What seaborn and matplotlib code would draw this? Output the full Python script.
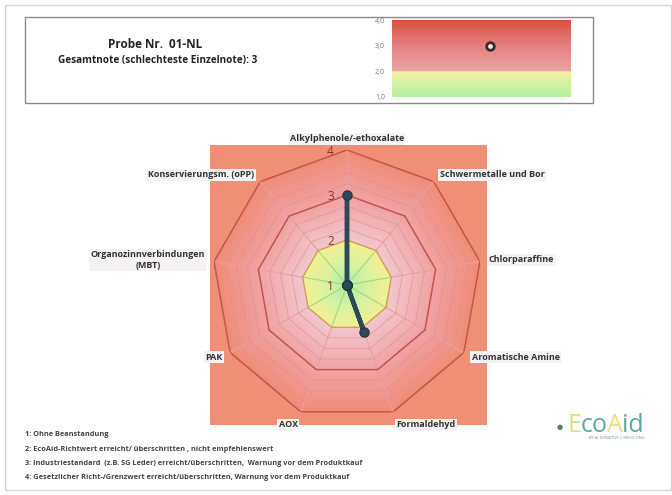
import numpy as np
import matplotlib
matplotlib.use("Agg")
import matplotlib.pyplot as plt
import matplotlib.colors as mcolors
from matplotlib.patches import Rectangle
import seaborn as sns

# --- data ---
categories = ["Alkylphenole/-ethoxalate", "Schwermetalle und Bor", "Chlorparaffine",
              "Aromatische Amine", "Formaldehyd", "AOX", "PAK",
              "Organozinnverbindungen\n(MBT)", "Konservierungsm. (oPP)"]
scores = [3, 1, 1, 1, 2.1, 1, 1, 1, 1]
overall_score = 3
radar_ticks = [1, 2, 3, 4]
bar_ticks = [1, 2, 3, 4]
bar_tick_labels = ["1,0", "2,0", "3,0", "4,0"]
sample_name = "Probe Nr.  01-NL"
subtitle = "Gesamtnote (schlechteste Einzelnote): 3"
legend_lines = ["1: Ohne Beanstandung",
                "2: EcoAid-Richtwert erreicht/ überschritten , nicht empfehlenswert",
                "3: Industriestandard  (z.B. SG Leder) erreicht/überschritten,  Warnung vor dem Produktkauf",
                "4: Gesetzlicher Richt-/Grenzwert erreicht/überschritten, Warnung vor dem Produktkauf"]

sns.set_theme(style="white")
plt.rcParams['font.family'] = ['Open Sans', 'DejaVu Sans']

W, H = 672, 495
fig = plt.figure(figsize=(W / 100, H / 100), dpi=100)
fig.patch.set_facecolor("white")


def px(x0, y0, x1, y1):
    # pixel box (top-left origin) -> figure fraction rect
    return [x0 / W, 1 - y1 / H, (x1 - x0) / W, (y1 - y0) / H]


# outer frame
fig.patches.append(Rectangle((5 / W, 5 / H), 666 / W, 485 / H, transform=fig.transFigure,
                             fill=False, edgecolor="#d4d4d4", lw=1))
# header box
fig.patches.append(Rectangle((25 / W, 1 - 103 / H), 568 / W, 86 / H, transform=fig.transFigure,
                             fill=False, edgecolor="#8a8a8a", lw=1))
fig.text(155 / W, 1 - 45 / H, sample_name, ha="center", va="center",
         fontsize=8.5, fontweight="bold", color="#222222")
fig.text(158 / W, 1 - 60 / H, subtitle, ha="center", va="center",
         fontsize=7.2, fontweight="bold", color="#222222")


def ramp(stops, vals):
    pos = [s[0] for s in stops]
    rgb = np.array([mcolors.to_rgb(s[1]) for s in stops])
    return np.stack([np.interp(vals, pos, rgb[:, k]) for k in range(3)], axis=-1)


# --- small overall-score bar ---
axb = fig.add_axes(px(392, 20, 570, 97))
yy = np.linspace(1, 4, 300)
bar_cols = np.where(yy[:, None] < 2,
                    ramp([(1, "#b2f2a4"), (2, "#f6f0a2")], yy),
                    ramp([(2, "#eaa6a6"), (3, "#e58080"), (4, "#d9503f")], yy))
axb.imshow(bar_cols[:, None, :], extent=[0, 1, 1, 4], origin="lower", aspect="auto")
sns.scatterplot(x=[0.55], y=[overall_score], ax=axb, s=30, color="#f4eeee",
                edgecolor="#3a2a2a", linewidth=2.0, zorder=5)
axb.set_xlim(0, 1)
axb.set_ylim(1, 4)
axb.set_xticks([])
axb.set_yticks(bar_ticks)
axb.set_yticklabels(bar_tick_labels, fontsize=5, color="#777777")
axb.tick_params(axis="y", length=0, pad=5)
for s in axb.spines.values():
    s.set_visible(False)

# --- radar background square ---
axs = fig.add_axes(px(210, 145, 487, 425))
axs.set_facecolor("#ef8f76")
axs.set_xticks([])
axs.set_yticks([])
for s in axs.spines.values():
    s.set_visible(False)

# --- radar ---
cx, cy, R = 347, 285, 135
ax = fig.add_axes(px(cx - R, cy - R, cx + R, cy + R), projection="polar")
ax.set_facecolor("none")
ax.set_theta_zero_location("N")
ax.set_theta_direction(-1)
ax.set_ylim(1, 4)
ax.grid(False)
ax.spines["polar"].set_visible(False)
ax.set_xticks([])
ax.set_yticks([])

n = len(categories)
theta = np.linspace(0, 2 * np.pi, n, endpoint=False)
theta_c = np.append(theta, theta[0])

# gradient fill, outside in
levels = np.arange(4.0, 0.99, -0.04)
for lv in levels:
    if lv > 2.0:
        c = ramp([(2.0, "#f2c8d0"), (3.0, "#f0a4a6"), (4.0, "#ee8d76")], lv)
    else:
        c = ramp([(1.0, "#a8f0a8"), (1.5, "#d6f2a0"), (2.0, "#f3ef94")], lv)
    ax.fill(theta_c, [max(lv, 1.0001)] * (n + 1), color=c, lw=0, zorder=1)

# spokes
for t in theta:
    ax.plot([t, t], [1, 2], color="#9ed88a", lw=0.8, zorder=2)
    ax.plot([t, t], [2, 4], color="#e9a0a4", lw=0.8, zorder=2)
# minor rings
for lv in np.arange(2.25, 4.0, 0.25):
    ax.plot(theta_c, [lv] * (n + 1), color="#e48c8c", lw=0.6, alpha=0.7, zorder=2)
# major rings
ax.plot(theta_c, [2] * (n + 1), color="#d0a050", lw=1.0, zorder=3)
for lv in [3, 4]:
    ax.plot(theta_c, [lv] * (n + 1), color="#c4564c", lw=1.1, zorder=3)

# radial tick labels
for t in radar_ticks:
    ax.annotate(str(t), xy=(0, t), xytext=(-12, -1), textcoords="offset points",
                ha="center", va="center", fontsize=8.5, color="#8a3428", zorder=4)

# data line + markers
vals_c = np.append(scores, scores[0])
sns.lineplot(x=theta_c, y=vals_c, ax=ax, sort=False, estimator=None,
             color="#2d4a58", lw=3.2, zorder=6)
sns.scatterplot(x=theta, y=scores, ax=ax, s=45, color="#2d4a58",
                edgecolor="#1f3540", linewidth=0.8, zorder=7)
ax.set_xlabel("")
ax.set_ylabel("")

# category labels
lab_r = 4.2
for t, lab in zip(theta, categories):
    deg = np.degrees(t)
    if deg < 1:
        ha, va, r = "center", "bottom", 4.15
    elif deg < 170:
        ha, va, r = "left", "center", lab_r
    elif deg < 190:
        ha, va, r = "center", "top", lab_r
    else:
        ha, va, r = "right", "center", lab_r
    if 150 < deg < 170:
        ha, va = "left", "top"
    if 190 < deg < 210:
        ha, va = "right", "top"
    ax.text(t, r, lab, ha=ha, va=va, fontsize=6.5, fontweight="bold",
            color="#333333", multialignment="center", clip_on=False, zorder=8,
            bbox=dict(boxstyle="square,pad=0.15", facecolor="#f4f2f2", edgecolor="none"))

# legend text
for i, line in enumerate(legend_lines):
    fig.text(25 / W, 1 - (435 + i * 14.3) / H, line, ha="left", va="center",
             fontsize=5.3, fontweight="bold", color="#444444")

# logo
fig.text(560 / W, 1 - 427 / H, "\u25cf", ha="center", va="center", fontsize=5, color="#4f7f78")
logo_parts = [("E", "#d6e08a"), ("co", "#5fa9a0"), ("A", "#e8e07a"), ("id", "#5fa9a0")]
tx = 568
for part, col in logo_parts:
    t_ = fig.text(tx / W, 1 - 425 / H, part, ha="left", va="center", fontsize=18,
                  color=col, fontweight="normal")
    fig.canvas.draw()
    bb = t_.get_window_extent()
    tx += bb.width - 1
fig.text(617 / W, 1 - 438 / H, "BY ALTERNATIVE CONSULTING", ha="center", va="center",
         fontsize=2.8, color="#7a9a90")

fig.savefig("out.png", dpi=100, facecolor="white")
